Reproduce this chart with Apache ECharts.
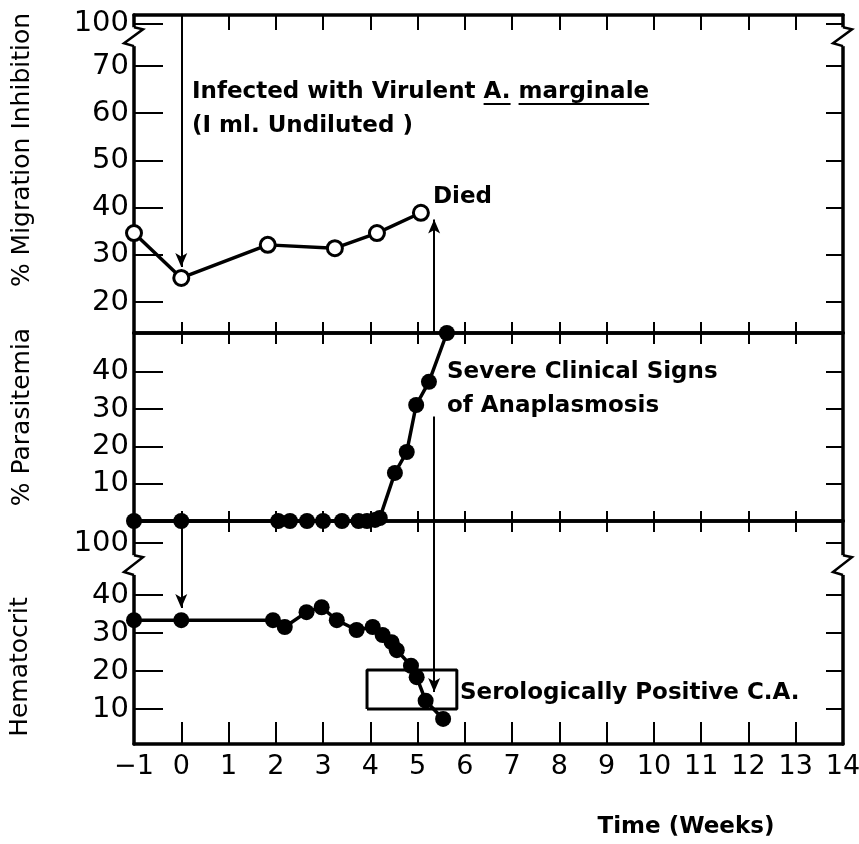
<!DOCTYPE html>
<html>
<head>
<meta charset="utf-8">
<script src="https://cdn.jsdelivr.net/npm/echarts@6/dist/echarts.min.js"></script>
<style>
html, body { margin: 0; padding: 0; background: #fff; }
#chart { width: 859px; height: 844px; }
</style>
</head>
<body>
<div id="chart"></div>
<script>
// x axis: time in weeks
var weekMin = -1;
var weekMax = 14;

// % migration inhibition (open circles)
var migWeeks = [-1, 0, 1.83, 3.25, 4.14, 5.07];
var migValues = [34.6, 25.1, 32.1, 31.4, 34.6, 38.9];
var migTicks = [20, 30, 40, 50, 60, 70, 79];
var migTickLabels = ['20', '30', '40', '50', '60', '70', '100'];

// % parasitemia
var paraWeeks = [-1, 0, 2.05, 2.3, 2.66, 3.0, 3.4, 3.75, 3.93, 4.1, 4.2, 4.52, 4.77, 4.97, 5.24, 5.62];
var paraValues = [0, 0, 0, 0, 0, 0, 0, 0, 0, 0.3, 0.8, 12.9, 18.5, 31.1, 37.3, 50.4];
var paraTicks = [10, 20, 30, 40];
var paraTickLabels = ['10', '20', '30', '40'];

// hematocrit
var hctWeeks = [-1, 0, 1.94, 2.19, 2.65, 2.97, 3.29, 3.71, 4.05, 4.26, 4.45, 4.56, 4.86, 4.98, 5.17, 5.54];
var hctValues = [33.4, 33.4, 33.4, 31.6, 35.5, 36.8, 33.4, 30.8, 31.6, 29.5, 27.6, 25.5, 21.4, 18.4, 12.2, 7.4];
var hctTicks = [10, 20, 30, 40, 53.7];
var hctTickLabels = ['10', '20', '30', '40', '100'];

// serologically positive period (box)
var seroWeeks = [3.93, 5.83];
var seroRange = [10, 20.3];

// events
var infectedWeek = 0;
var diedWeek = 5.35;

var black = '#000';
var font = 'DejaVu Sans';

function pairs(xs, ys) {
    return xs.map(function (x, i) { return [x, ys[i]]; });
}

function xAxisFor(gridIndex, position, tickLen, showLabel) {
    return {
        type: 'value', gridIndex: gridIndex, position: position,
        min: weekMin, max: weekMax, interval: 1,
        axisLine: {show: true, onZero: false, lineStyle: {color: black, width: 3.5}},
        axisTick: {show: true, inside: true, length: tickLen, lineStyle: {color: black, width: 2}},
        axisLabel: {
            show: showLabel, color: black, fontSize: 27, fontFamily: font, margin: 9,
            formatter: function (v) { return v < 0 ? '\u2212' + (-v) : String(v); }
        },
        splitLine: {show: false}
    };
}

function yAxisFor(gridIndex, position, min, max, ticks, labels, tickLen, showLabel) {
    return {
        type: 'value', gridIndex: gridIndex, position: position, min: min, max: max,
        axisLine: {show: true, onZero: false, lineStyle: {color: black, width: 3.5}},
        axisTick: {show: true, inside: true, length: tickLen, customValues: ticks,
            lineStyle: {color: black, width: 2}},
        axisLabel: {
            show: showLabel, customValues: ticks, color: black, fontSize: 29, fontFamily: font, margin: 5,
            formatter: function (v) {
                var i = ticks.indexOf(v);
                return i >= 0 ? labels[i] : '';
            }
        },
        splitLine: {show: false}
    };
}

function arrowMarks(pairsList, withArrow) {
    return {
        silent: true,
        symbol: ['none', withArrow ? 'arrow' : 'none'],
        symbolSize: [9, 14],
        label: {show: false},
        lineStyle: {color: black, width: 2, type: 'solid'},
        data: pairsList.map(function (p) { return [{coord: p[0]}, {coord: p[1]}]; })
    };
}

var chart = echarts.init(document.getElementById('chart'));

var option = {
    animation: false,
    backgroundColor: '#fff',
    grid: [
        {left: 134, width: 709, top: 15, height: 318, outerBoundsMode: 'none'},
        {left: 134, width: 709, top: 333, height: 188, outerBoundsMode: 'none'},
        {left: 134, width: 709, top: 521, height: 223, outerBoundsMode: 'none'}
    ],
    xAxis: [
        xAxisFor(0, 'bottom', 11, false),
        xAxisFor(0, 'top', 15, false),
        xAxisFor(1, 'bottom', 10, false),
        xAxisFor(1, 'top', 11, false),
        xAxisFor(2, 'top', 11, false),
        xAxisFor(2, 'bottom', 22, true)
    ],
    yAxis: [
        yAxisFor(0, 'left', 13.43, 80.8, migTicks, migTickLabels, 29, true),
        yAxisFor(0, 'right', 13.43, 80.8, migTicks, migTickLabels, 17, false),
        yAxisFor(1, 'left', 0, 50.4, paraTicks, paraTickLabels, 29, true),
        yAxisFor(1, 'right', 0, 50.4, paraTicks, paraTickLabels, 17, false),
        yAxisFor(2, 'left', 0.8, 59.5, hctTicks, hctTickLabels, 29, true),
        yAxisFor(2, 'right', 0.8, 59.5, hctTicks, hctTickLabels, 17, false)
    ],
    series: [
        {
            name: '% Migration Inhibition', type: 'line', xAxisIndex: 0, yAxisIndex: 0,
            data: pairs(migWeeks, migValues), clip: false,
            symbol: 'circle', symbolSize: 15,
            itemStyle: {color: '#fff', borderColor: black, borderWidth: 3},
            lineStyle: {color: black, width: 3.5},
            markLine: arrowMarks([
                [[infectedWeek, 80.8], [infectedWeek, 27.4]],
                [[diedWeek, 13.43], [diedWeek, 37.5]]
            ], true)
        },
        {
            name: '% Parasitemia', type: 'line', xAxisIndex: 2, yAxisIndex: 2,
            data: pairs(paraWeeks, paraValues), clip: false,
            symbol: 'circle', symbolSize: 16,
            itemStyle: {color: black},
            lineStyle: {color: black, width: 3.5},
            markLine: arrowMarks([[[diedWeek, 28], [diedWeek, 0]]], false)
        },
        {
            name: 'Hematocrit', type: 'line', xAxisIndex: 5, yAxisIndex: 4,
            data: pairs(hctWeeks, hctValues), clip: false,
            symbol: 'circle', symbolSize: 16,
            itemStyle: {color: black},
            lineStyle: {color: black, width: 3.5},
            markLine: arrowMarks([
                [[infectedWeek, 59.5], [infectedWeek, 36.6]],
                [[diedWeek, 59.5], [diedWeek, 14.5]]
            ], true)
        },
        {
            name: 'Serologically Positive', type: 'line', xAxisIndex: 5, yAxisIndex: 4,
            data: [
                [seroWeeks[0], seroRange[0]], [seroWeeks[0], seroRange[1]],
                [seroWeeks[1], seroRange[1]], [seroWeeks[1], seroRange[0]],
                [seroWeeks[0], seroRange[0]]
            ],
            showSymbol: false, silent: true, z: 1,
            lineStyle: {color: black, width: 3}
        }
    ]
};
chart.setOption(option);

// text annotations and axis breaks
var noteSize = 23;

function measure(text, size, weight) {
    var ctx = document.createElement('canvas').getContext('2d');
    ctx.font = weight + ' ' + size + 'px "' + font + '"';
    return ctx.measureText(text).width;
}

function label(text, x, y, size, weight, align) {
    return {
        type: 'text', x: x, y: y, z: 100, silent: true,
        style: {text: text, fill: black, fontSize: size, fontWeight: weight, fontFamily: font,
            verticalAlign: 'middle', align: align || 'left'}
    };
}

function rotated(text, x, y, size) {
    return {
        type: 'text', x: x, y: y, rotation: Math.PI / 2, z: 100, silent: true,
        style: {text: text, fill: black, fontSize: size, fontFamily: font,
            align: 'center', verticalAlign: 'middle'}
    };
}

function underline(x1, x2, y) {
    return {type: 'line', z: 100, silent: true, shape: {x1: x1, y1: y, x2: x2, y2: y},
        style: {stroke: black, lineWidth: 2}};
}

function breakMark(x, yTop, yBot) {
    return [
        {type: 'rect', z: 100, silent: true, shape: {x: x - 3, y: yTop, width: 6, height: yBot - yTop},
            style: {fill: '#fff'}},
        {type: 'polyline', z: 101, silent: true,
            shape: {points: [[x, yTop], [x + 9, yTop + 2], [x - 10, yBot - 3], [x, yBot]]},
            style: {stroke: black, lineWidth: 2.5, fill: null}}
    ];
}

var xLeft = chart.convertToPixel({xAxisIndex: 0}, weekMin);
var xRight = chart.convertToPixel({xAxisIndex: 0}, weekMax);
var topBreak = [chart.convertToPixel({yAxisIndex: 0}, 78.2), chart.convertToPixel({yAxisIndex: 0}, 74.2)];
var hctBreak = [chart.convertToPixel({yAxisIndex: 4}, 50.5), chart.convertToPixel({yAxisIndex: 4}, 45.3)];

var line1a = 'Infected with Virulent ';
var line1b = 'A.';
var line1c = 'marginale';
var w1a = measure(line1a, noteSize, 'bold');
var w1b = measure(line1b + ' ', noteSize, 'bold');
var w1bOnly = measure(line1b, noteSize, 'bold');
var w1c = measure(line1c, noteSize, 'bold');
var x1 = 192;

var graphics = [
    label(line1a, x1, 92, noteSize, 'bold'),
    label(line1b, x1 + w1a, 92, noteSize, 'bold'),
    label(line1c, x1 + w1a + w1b, 92, noteSize, 'bold'),
    underline(x1 + w1a, x1 + w1a + w1bOnly, 104),
    underline(x1 + w1a + w1b, x1 + w1a + w1b + w1c, 104),
    label('(I ml. Undiluted )', x1, 126, noteSize, 'bold'),
    label('Died', 433, 197, noteSize, 'bold'),
    label('Severe Clinical Signs', 447, 372, noteSize, 'bold'),
    label('of Anaplasmosis', 447, 406, noteSize, 'bold'),
    label('Serologically Positive C.A.', 460, 693, noteSize, 'bold'),
    label('Time (Weeks)', 686, 827, noteSize, 'bold', 'center'),
    rotated('% Migration Inhibition', 22, 150, 25),
    rotated('% Parasitemia', 22, 417, 25),
    rotated('Hematocrit', 20, 667, 25)
];
graphics = graphics
    .concat(breakMark(xLeft, topBreak[0], topBreak[1]))
    .concat(breakMark(xRight, topBreak[0], topBreak[1]))
    .concat(breakMark(xLeft, hctBreak[0], hctBreak[1]))
    .concat(breakMark(xRight, hctBreak[0], hctBreak[1]));

chart.setOption({graphic: graphics});
</script>
</body>
</html>
